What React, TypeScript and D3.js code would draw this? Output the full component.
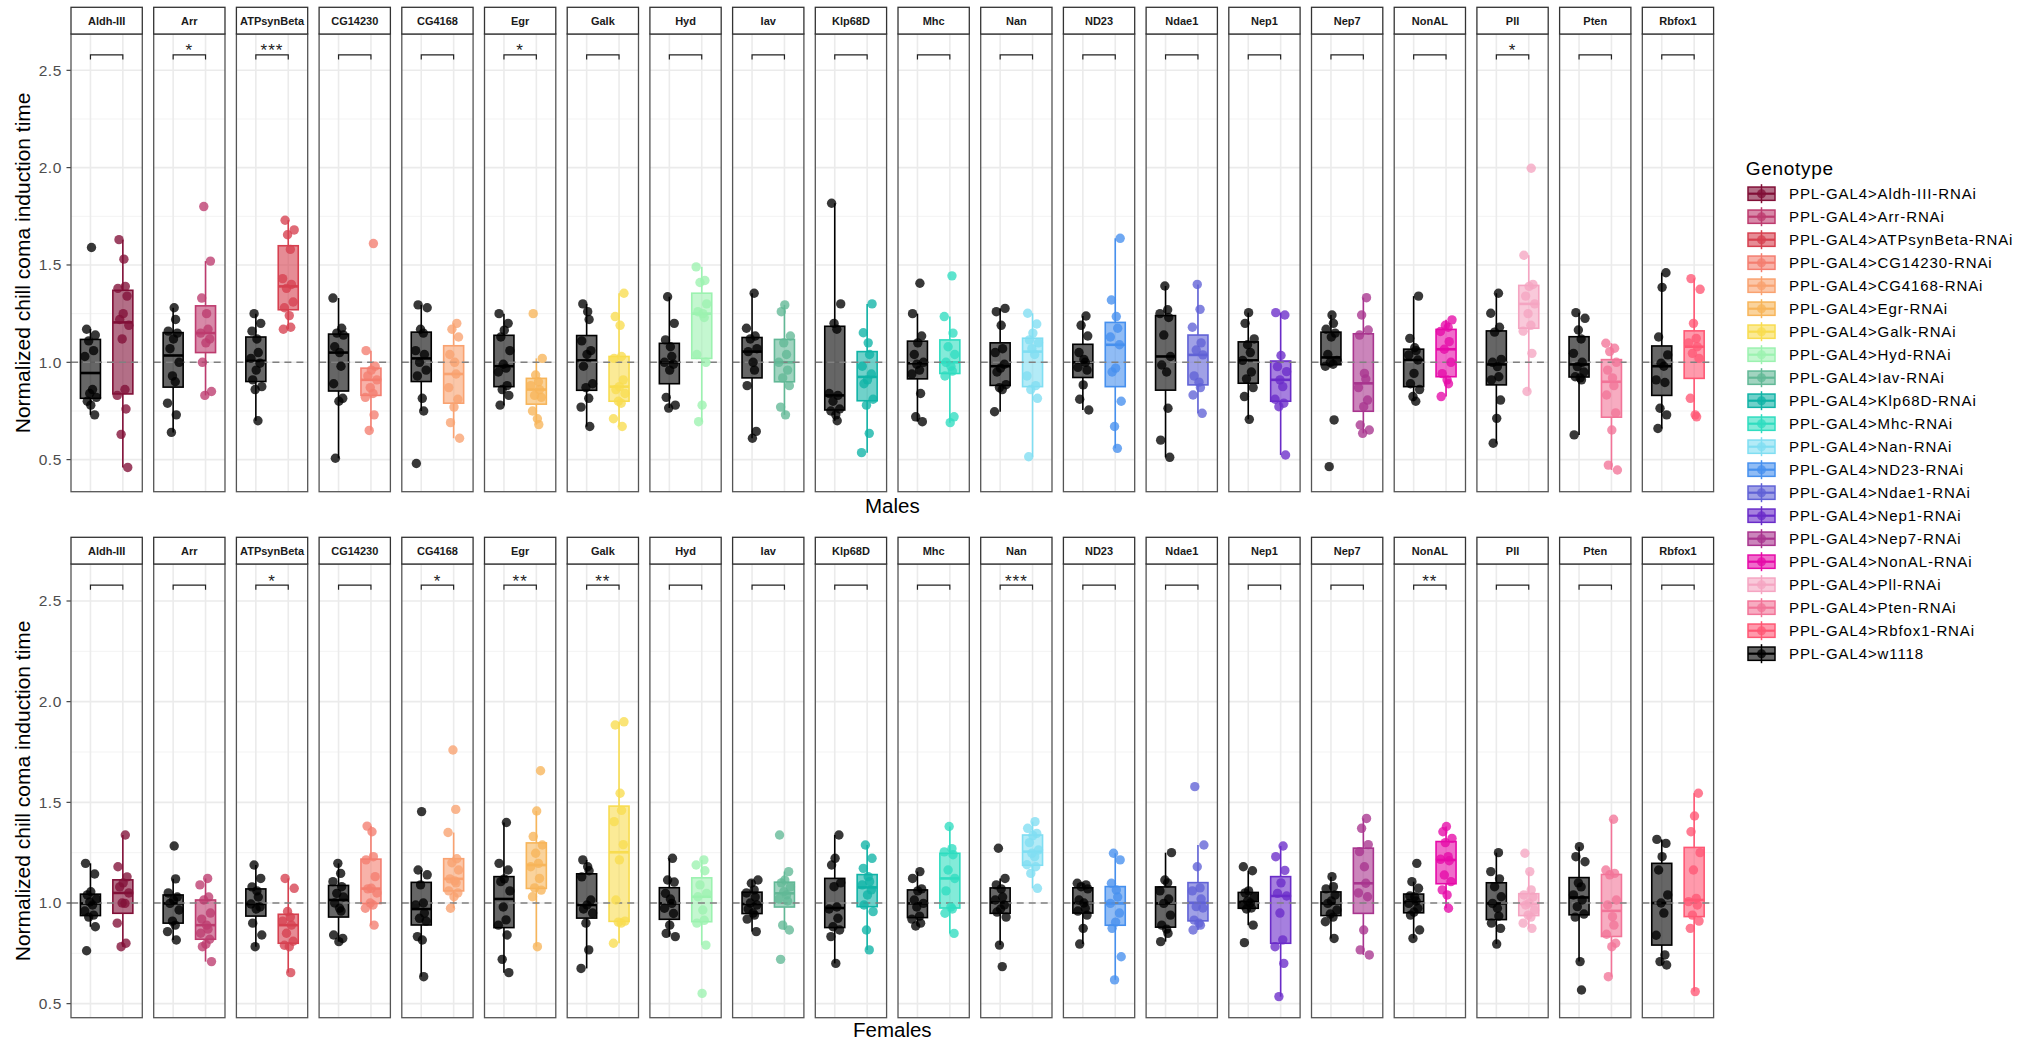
import React from "react";
import * as d3 from "d3";

const genes = ["Aldh-III","Arr","ATPsynBeta","CG14230","CG4168","Egr","Galk","Hyd","Iav","Klp68D","Mhc","Nan","ND23","Ndae1","Nep1","Nep7","NonAL","Pll","Pten","Rbfox1"];

const geneColors = ["#810F37","#BD3B6E","#D6404F","#F47E70","#F9A270","#F7B55A","#F8DC50","#9CF2B0","#62B896","#10B3A6","#30DDC0","#80DEF2","#4690EE","#6062D6","#6A2CC9","#A8348E","#E60AA8","#F5A5C2","#F27498","#FF5774"];
const controlColor = "#000000";

const maleSig = ["","*","***","","","*","","","","","","","","","","","","*","",""];
const femaleSig = ["","","*","","*","**","**","","","","","***","","","","","**","","",""];

const maleControl = [
  [1.59,1.17,1.14,1.11,1.06,1.03,0.86,0.84,0.82,0.80,0.78,0.73],
  [0.64,0.73,0.79,0.90,0.93,1.00,1.07,1.12,1.15,1.16,1.22,1.28],
  [0.70,0.86,0.875,0.91,0.96,0.995,1.02,1.05,1.12,1.16,1.20,1.25],
  [0.507,0.80,0.815,0.89,0.98,1.05,1.08,1.14,1.15,1.175,1.33],
  [0.48,0.75,0.815,0.93,0.96,1.00,1.04,1.06,1.15,1.17,1.28,1.295],
  [0.78,0.83,0.86,0.88,0.95,0.97,0.99,1.06,1.13,1.165,1.20,1.25],
  [0.67,0.77,0.815,0.87,0.89,0.98,1.04,1.06,1.11,1.22,1.26,1.30],
  [0.765,0.78,0.82,0.96,0.99,1.00,1.03,1.08,1.115,1.20,1.337],
  [0.61,0.645,0.88,0.96,1.00,1.055,1.07,1.12,1.135,1.175,1.355],
  [0.70,0.73,0.75,0.76,0.80,0.83,0.84,1.17,1.20,1.30,1.817],
  [0.695,0.72,0.84,0.94,0.96,0.99,1.00,1.04,1.10,1.135,1.25,1.406],
  [0.746,0.86,0.87,0.885,0.95,0.97,0.99,1.05,1.07,1.19,1.26,1.277],
  [0.755,0.81,0.884,0.96,0.974,1.00,1.015,1.05,1.135,1.19,1.238],
  [0.512,0.60,0.764,0.95,0.986,1.03,1.14,1.23,1.25,1.27,1.392],
  [0.707,0.824,0.87,0.915,0.95,1.01,1.05,1.09,1.12,1.20,1.255],
  [0.464,0.704,0.98,0.99,1.00,1.01,1.04,1.13,1.15,1.17,1.20,1.243],
  [0.80,0.824,0.86,0.89,0.943,1.012,1.038,1.06,1.075,1.123,1.34],
  [0.584,0.712,0.806,0.91,0.926,0.978,1.00,1.015,1.155,1.18,1.252,1.355],
  [0.627,0.91,0.92,0.926,0.95,0.978,1.00,1.046,1.12,1.166,1.226,1.255],
  [0.66,0.73,0.764,0.896,0.91,0.98,0.995,1.038,1.13,1.385,1.46],
];

const maleRNAi = [
  [0.46,0.63,0.76,0.83,0.86,1.12,1.19,1.22,1.25,1.34,1.38,1.39,1.53,1.63],
  [0.83,0.85,1.00,1.10,1.12,1.15,1.17,1.25,1.33,1.52,1.80],
  [1.17,1.18,1.24,1.28,1.31,1.38,1.40,1.43,1.58,1.655,1.68,1.73],
  [0.65,0.73,0.82,0.84,0.87,0.91,0.93,0.96,0.98,1.06,1.61],
  [0.61,0.69,0.77,0.81,0.87,0.94,1.00,1.04,1.13,1.17,1.20],
  [0.68,0.71,0.75,0.82,0.83,0.86,0.88,0.90,0.935,1.02,1.25],
  [0.67,0.71,0.79,0.80,0.84,0.86,0.875,0.91,1.02,1.03,1.19,1.235,1.355],
  [0.695,0.78,1.00,1.04,1.23,1.25,1.26,1.30,1.41,1.42,1.49],
  [0.73,0.77,0.88,0.92,0.96,1.00,1.04,1.10,1.135,1.26,1.295],
  [0.536,0.635,0.78,0.81,0.89,0.91,0.94,0.98,1.04,1.10,1.152,1.30],
  [0.69,0.72,0.93,0.955,0.98,1.00,1.04,1.08,1.15,1.235,1.444],
  [0.515,0.815,0.86,0.88,0.93,1.04,1.07,1.10,1.115,1.15,1.197,1.252],
  [0.558,0.67,0.80,0.95,0.97,1.09,1.13,1.175,1.235,1.32,1.637],
  [0.738,0.832,0.87,0.898,0.93,1.038,1.063,1.10,1.18,1.272,1.40],
  [0.524,0.772,0.79,0.81,0.875,0.91,0.952,0.978,1.035,1.243,1.255],
  [0.635,0.652,0.678,0.772,0.806,0.87,0.914,0.943,1.14,1.166,1.243,1.332],
  [0.824,0.89,0.91,0.942,1.0,1.067,1.106,1.158,1.18,1.19,1.218],
  [0.85,1.046,1.16,1.19,1.25,1.30,1.34,1.39,1.40,1.55,1.997],
  [0.447,0.472,0.652,0.74,0.832,0.88,0.92,0.96,1.0,1.055,1.072,1.098],
  [0.72,0.73,0.815,1.02,1.046,1.08,1.10,1.123,1.20,1.375,1.43],
];

const femaleControl = [
  [0.763,0.882,0.93,0.94,0.96,0.99,1.005,1.02,1.04,1.056,1.144,1.197],
  [0.816,0.858,0.89,0.91,0.965,0.998,1.015,1.03,1.05,1.12,1.283],
  [0.783,0.841,0.90,0.97,0.98,0.995,1.03,1.06,1.08,1.122,1.189],
  [0.808,0.824,0.841,0.96,0.974,1.00,1.03,1.048,1.081,1.106,1.147,1.197],
  [0.634,0.816,0.833,0.91,0.924,0.95,0.99,1.0,1.09,1.14,1.164,1.454],
  [0.654,0.72,0.841,0.89,0.916,0.98,1.06,1.106,1.12,1.164,1.197,1.40],
  [0.675,0.767,0.90,0.95,0.97,0.99,1.015,1.13,1.16,1.18,1.214],
  [0.833,0.849,0.89,0.948,0.974,0.998,1.02,1.048,1.104,1.114,1.222],
  [0.858,0.92,0.94,0.95,0.97,0.99,1.00,1.03,1.05,1.065,1.098,1.114],
  [0.70,0.833,0.866,0.882,0.924,0.97,0.98,1.081,1.10,1.189,1.222,1.338],
  [0.886,0.90,0.92,0.935,0.98,0.998,1.015,1.06,1.07,1.122,1.156],
  [0.684,0.791,0.93,0.955,0.97,0.99,1.015,1.03,1.07,1.09,1.122,1.272],
  [0.796,0.874,0.94,0.96,0.974,1.0,1.015,1.07,1.081,1.09,1.098],
  [0.808,0.849,0.87,0.89,0.94,0.998,1.02,1.06,1.10,1.114,1.25],
  [0.803,0.89,0.97,0.975,0.99,1.0,1.01,1.03,1.05,1.06,1.16,1.18],
  [0.824,0.907,0.93,0.945,0.965,0.998,1.01,1.04,1.07,1.081,1.131],
  [0.824,0.866,0.94,0.955,0.974,0.998,1.01,1.031,1.035,1.073,1.106,1.197],
  [0.796,0.874,0.90,0.935,0.974,0.998,1.031,1.081,1.12,1.156,1.25],
  [0.568,0.709,0.93,0.945,0.982,1.015,1.04,1.08,1.10,1.205,1.23,1.28],
  [0.692,0.709,0.742,0.84,0.95,1.0,1.04,1.164,1.23,1.296,1.316],
];

const femaleRNAi = [
  [0.783,0.80,0.90,0.998,1.00,1.05,1.08,1.10,1.13,1.18,1.338],
  [0.709,0.783,0.795,0.82,0.85,0.87,0.89,0.92,0.95,1.015,1.03,1.09,1.122],
  [0.654,0.783,0.79,0.81,0.85,0.89,0.91,0.93,0.958,1.073,1.122],
  [0.89,0.974,0.99,1.00,1.05,1.07,1.073,1.131,1.214,1.23,1.354,1.382],
  [0.974,1.031,1.05,1.06,1.10,1.11,1.12,1.164,1.20,1.22,1.35,1.465,1.76],
  [0.783,1.031,1.064,1.075,1.122,1.18,1.197,1.247,1.288,1.33,1.457,1.657],
  [0.80,0.90,0.905,0.91,1.015,1.214,1.29,1.404,1.46,1.545,1.884,1.90],
  [0.551,0.791,0.90,0.914,0.965,1.031,1.048,1.09,1.16,1.189,1.214],
  [0.72,0.866,0.89,1.01,1.02,1.04,1.056,1.08,1.10,1.114,1.156,1.338],
  [0.767,0.866,0.957,0.99,1.04,1.065,1.09,1.106,1.131,1.172,1.222,1.288],
  [0.849,0.949,0.97,0.98,1.06,1.122,1.164,1.24,1.254,1.27,1.38],
  [1.073,1.147,1.18,1.19,1.23,1.247,1.263,1.30,1.335,1.346,1.371,1.404],
  [0.618,0.733,0.874,0.905,0.95,0.998,1.03,1.065,1.098,1.214,1.247],
  [0.866,0.89,0.90,0.915,0.975,0.982,1.02,1.06,1.075,1.18,1.288,1.578],
  [0.535,0.70,0.783,0.817,0.95,1.035,1.048,1.10,1.162,1.23,1.283],
  [0.742,0.767,0.866,1.031,1.05,1.098,1.18,1.255,1.29,1.371,1.42],
  [0.974,1.04,1.065,1.106,1.139,1.21,1.217,1.23,1.30,1.321,1.354,1.38],
  [0.874,0.90,0.93,0.94,0.965,0.99,1.0,1.03,1.04,1.065,1.156,1.247],
  [0.634,0.783,0.80,0.845,0.89,0.932,0.99,1.015,1.14,1.147,1.164,1.416],
  [0.56,0.874,0.91,0.94,0.99,1.007,1.023,1.164,1.25,1.354,1.432,1.545],
];

const yTicks = [0.5, 1.0, 1.5, 2.0, 2.5];
const yMinor = [0.75, 1.25, 1.75, 2.25];
const yTickLabels = ["0.5", "1.0", "1.5", "2.0", "2.5"];
const bracketValue = 2.579;
const bracketTipValue = 2.556;
const refValue = 1.0;
const legendTitle = "Genotype";
const controlLabel = "PPL-GAL4>w1118";
const yTitle = "Normalized chill coma induction time";

// deterministic horizontal spread pattern for the jittered points (fractions of half-width)
const JITTER = [0.15,-0.55,0.7,-0.25,0.45,-0.8,0.3,-0.1,0.85,-0.45,0.05,0.6,-0.7,0.35];

const FONT = "'Liberation Sans', Arial, Helvetica, sans-serif";

function boxStats(vals: number[]) {
  const s = [...vals].sort(d3.ascending);
  const q1 = d3.quantile(s, 0.25) as number;
  const med = d3.quantile(s, 0.5) as number;
  const q3 = d3.quantile(s, 0.75) as number;
  const iqr = q3 - q1;
  const lo = d3.min(s.filter((v) => v >= q1 - 1.5 * iqr)) as number;
  const hi = d3.max(s.filter((v) => v <= q3 + 1.5 * iqr)) as number;
  return { q1, med, q3, lo, hi, s };
}

const rowsCfg = [
  { label: "Males", ctrl: maleControl, rnai: maleRNAi, sig: maleSig, stripTop: 7.3, panelTop: 34, panelBottom: 491.7, domain: [0.3353, 2.6865], labelY: 512.5 },
  { label: "Females", ctrl: femaleControl, rnai: femaleRNAi, sig: femaleSig, stripTop: 537.3, panelTop: 564, panelBottom: 1017.7, domain: [0.4303, 2.6838], labelY: 1036.5 },
];

export default function App() {
  const W = 2037, H = 1048;
  const x = d3.scaleBand<string>().domain(genes).range([71, 1713.6]).paddingInner(0.138).paddingOuter(0);
  const bw = x.bandwidth();
  const inner = d3.scalePoint<string>().domain(["ctrl", "rnai"]).range([0, bw]).padding(0.6);
  const boxW = 20;
  const pr = 4.7;

  const renderGroup = (vals: number[], cx: number, color: string, y: d3.ScaleLinear<number, number>, key: string) => {
    const st = boxStats(vals);
    return (
      <g key={key}>
        <line x1={cx} x2={cx} y1={y(st.q3)} y2={y(st.hi)} stroke={color} strokeWidth={1.6} />
        <line x1={cx} x2={cx} y1={y(st.q1)} y2={y(st.lo)} stroke={color} strokeWidth={1.6} />
        <rect x={cx - boxW / 2} y={y(st.q3)} width={boxW} height={y(st.q1) - y(st.q3)} fill={color} fillOpacity={0.6} stroke={color} strokeWidth={1.6} />
        <line x1={cx - boxW / 2} x2={cx + boxW / 2} y1={y(st.med)} y2={y(st.med)} stroke={color} strokeWidth={2.6} />
      </g>
    );
  };

  const renderPoints = (vals: number[], cx: number, color: string, y: d3.ScaleLinear<number, number>, key: string, seed: number) => (
    <g key={key}>
      {vals.map((v, i) => (
        <circle key={i} cx={cx + JITTER[(i + seed) % JITTER.length] * 7} cy={y(v)} r={pr} fill={color} fillOpacity={0.78} />
      ))}
    </g>
  );

  return (
    <svg width={W} height={H} style={{ position: "absolute", left: 0, top: 0, display: "block", background: "#fff" }} fontFamily={FONT}>
      <rect x={0} y={0} width={W} height={H} fill="#fff" />
      {rowsCfg.map((row, ri) => {
        const y = d3.scaleLinear().domain(row.domain).range([row.panelBottom, row.panelTop]);
        const midY = (row.panelTop + row.panelBottom) / 2;
        return (
          <g key={row.label}>
            {/* y axis title */}
            <text transform={`translate(30,${midY}) rotate(-90)`} textAnchor="middle" fontSize={21} fill="#000">{yTitle}</text>
            {/* y ticks */}
            {yTicks.map((t, i) => (
              <g key={t}>
                <line x1={66.5} x2={71} y1={y(t)} y2={y(t)} stroke="#333" strokeWidth={1.1} />
                <text x={62} y={y(t)} dy="0.35em" textAnchor="end" fontSize={15.5} fill="#4D4D4D" letterSpacing={0.6}>{yTickLabels[i]}</text>
              </g>
            ))}
            {genes.map((g, gi) => {
              const left = x(g) as number;
              const cCtrl = left + (inner("ctrl") as number);
              const cRnai = left + (inner("rnai") as number);
              const bY = y(bracketValue);
              const tY = y(bracketTipValue);
              return (
                <g key={g}>
                  <rect x={left} y={row.panelTop} width={bw} height={row.panelBottom - row.panelTop} fill="#fff" />
                  {yMinor.map((t) => (
                    <line key={t} x1={left} x2={left + bw} y1={y(t)} y2={y(t)} stroke="#F2F2F2" strokeWidth={0.9} />
                  ))}
                  {yTicks.map((t) => (
                    <line key={t} x1={left} x2={left + bw} y1={y(t)} y2={y(t)} stroke="#EBEBEB" strokeWidth={1.6} />
                  ))}
                  {[cCtrl, cRnai].map((cx, k) => (
                    <line key={k} x1={cx} x2={cx} y1={row.panelTop} y2={row.panelBottom} stroke="#EBEBEB" strokeWidth={1.6} />
                  ))}
                  {renderGroup(row.ctrl[gi], cCtrl, controlColor, y, "bc")}
                  {renderGroup(row.rnai[gi], cRnai, geneColors[gi], y, "br")}
                  <line x1={left} x2={left + bw} y1={y(refValue)} y2={y(refValue)} stroke="#808080" strokeWidth={1.6} strokeDasharray="7,5" />
                  {renderPoints(row.ctrl[gi], cCtrl, controlColor, y, "pc", gi * 3 + ri)}
                  {renderPoints(row.rnai[gi], cRnai, geneColors[gi], y, "pr", gi * 5 + 2 + ri)}
                  <path d={`M${cCtrl},${tY}V${bY}H${cRnai}V${tY}`} fill="none" stroke="#222" strokeWidth={1.2} />
                  {row.sig[gi] && (
                    <text x={(cCtrl + cRnai) / 2} y={bY + 1.5} textAnchor="middle" fontSize={17} fill="#222" letterSpacing={1}>{row.sig[gi]}</text>
                  )}
                  <rect x={left} y={row.panelTop} width={bw} height={row.panelBottom - row.panelTop} fill="none" stroke="#555" strokeWidth={1.3} />
                  {/* strip */}
                  <rect x={left} y={row.stripTop} width={bw} height={row.panelTop - row.stripTop} fill="#fff" stroke="#333" strokeWidth={1.3} />
                  <text x={left + bw / 2} y={(row.stripTop + row.panelTop) / 2} dy="0.36em" textAnchor="middle" fontSize={11} fontWeight="bold" fill="#1A1A1A">{g}</text>
                </g>
              );
            })}
            <text x={(71 + 1713.6) / 2} y={row.labelY} textAnchor="middle" fontSize={20.5} fill="#000">{row.label}</text>
          </g>
        );
      })}
      {/* legend */}
      <g>
        <text x={1745.7} y={175} fontSize={19} letterSpacing={0.7} fill="#000">{legendTitle}</text>
        {[...genes.map((g, i) => ({ label: `PPL-GAL4>${g}-RNAi`, color: geneColors[i] })), { label: controlLabel, color: controlColor }].map((it, i) => {
          const cy = 193.7 + i * 23;
          const kx = 1748, kw = 27, kh = 13.3;
          const cx = kx + kw / 2;
          return (
            <g key={it.label}>
              <line x1={cx} x2={cx} y1={cy - 9.5} y2={cy + 9.5} stroke={it.color} strokeWidth={1.5} />
              <rect x={kx} y={cy - kh / 2} width={kw} height={kh} fill={it.color} fillOpacity={0.6} stroke={it.color} strokeWidth={1.5} />
              <line x1={kx} x2={kx + kw} y1={cy} y2={cy} stroke={it.color} strokeWidth={2.2} />
              <circle cx={cx} cy={cy} r={4.5} fill={it.color} fillOpacity={0.78} />
              <text x={1789} y={cy} dy="0.36em" fontSize={15} letterSpacing={0.9} fill="#000">{it.label}</text>
            </g>
          );
        })}
      </g>
    </svg>
  );
}
